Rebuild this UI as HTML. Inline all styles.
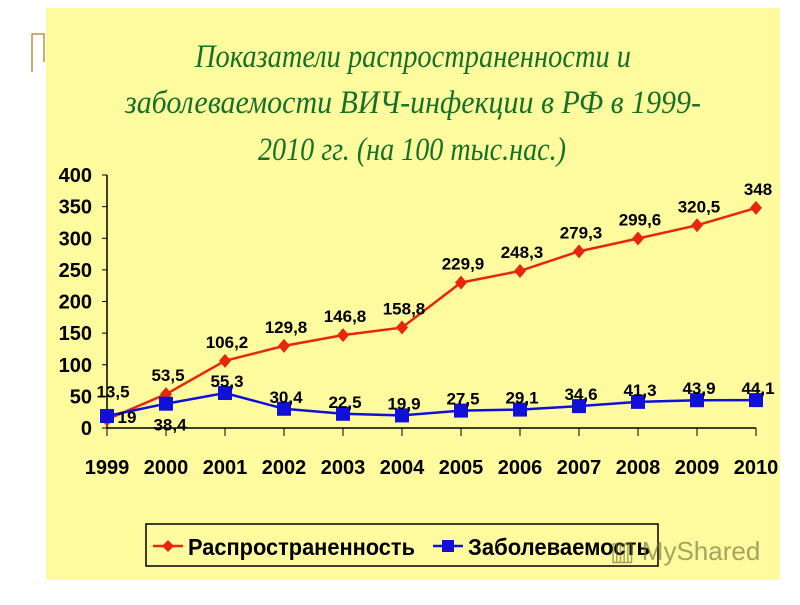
<!DOCTYPE html>
<html><head><meta charset="utf-8"><style>
body{margin:0;width:800px;height:600px;background:#fff;overflow:hidden;font-family:"Liberation Sans",sans-serif}
</style></head><body>
<svg width="800" height="600">
<rect x="46" y="8" width="734" height="572" fill="#fdfb9d"/>
<path d="M44 62 V34 H32 V72" fill="none" stroke="#b8963c" stroke-width="1.5"/>
<g font-family="'Liberation Serif',serif" font-style="italic" font-size="33" fill="#16702a">
<text x="195" y="67" textLength="436" lengthAdjust="spacingAndGlyphs">Показатели распространенности и</text>
<text x="125" y="113" textLength="576" lengthAdjust="spacingAndGlyphs">заболеваемости ВИЧ-инфекции в РФ в 1999-</text>
<text x="258" y="160" textLength="308" lengthAdjust="spacingAndGlyphs">2010 гг. (на 100 тыс.нас.)</text>
</g>
<g id="axes"></g>
<g id="marks"></g>
<g>
<rect x="146" y="524" width="512" height="42" fill="none" stroke="#000" stroke-width="1.5"/>
<line x1="153" y1="546" x2="183" y2="546" stroke="#e8260e" stroke-width="2.5"/>
<path d="M168 540 L174 546 L168 552 L162 546Z" fill="#e8260e"/>
<text x="188" y="555" font-size="23" font-weight="bold" textLength="227" lengthAdjust="spacingAndGlyphs">Распространенность</text>
<line x1="433" y1="546" x2="463" y2="546" stroke="#1010d8" stroke-width="2.5"/>
<rect x="442" y="540" width="12" height="12" fill="#1010d8"/>
<text x="468" y="555" font-size="23" font-weight="bold" textLength="182" lengthAdjust="spacingAndGlyphs">Заболеваемость</text>
</g>
<text x="610" y="560" font-size="26" fill="#6a6a3a" opacity="0.6">▥ MyShared</text>
</svg>
<script>
const years=["1999","2000","2001","2002","2003","2004","2005","2006","2007","2008","2009","2010"];
const prevalence=[13.5,53.5,106.2,129.8,146.8,158.8,229.9,248.3,279.3,299.6,320.5,348];
const incidence=[19,38.4,55.3,30.4,22.5,19.9,27.5,29.1,34.6,41.3,43.9,44.1];
const yTicks=[0,50,100,150,200,250,300,350,400];
const NS="http://www.w3.org/2000/svg";
const X=i=>107+i*59, Y=v=>428-v*0.6325;
function mk(t,a,p){const e=document.createElementNS(NS,t);for(const k in a)e.setAttribute(k,a[k]);document.getElementById(p).appendChild(e);return e;}
let e=mk('line',{x1:107,y1:Y(0),x2:X(11),y2:Y(0),stroke:'#000','stroke-width':1.5},'axes');


e=mk('line',{x1:107,y1:Y(400),x2:107,y2:Y(0),stroke:'#000','stroke-width':1.5},'axes');


yTicks.forEach(v=>{
 mk('line',{x1:102,y1:Y(v),x2:107,y2:Y(v),stroke:'#000'},'axes');
 e=mk('text',{x:92,y:Y(v)+7,'text-anchor':'end','font-size':20,'font-weight':'bold'},'axes');e.textContent=v;
 
 
});
years.forEach((y,i)=>{
 mk('line',{x1:X(i),y1:Y(0),x2:X(i),y2:Y(0)+8,stroke:'#000'},'axes');
 e=mk('text',{x:X(i),y:474,'text-anchor':'middle','font-size':20,'font-weight':'bold'},'axes');e.textContent=y;
 
 
});
function series(vals,col,name,marker,lab){
 e=mk('polyline',{points:vals.map((v,i)=>X(i)+','+Y(v)).join(' '),fill:'none',stroke:col,'stroke-width':2.5},'marks');
 
 
 vals.forEach((v,i)=>{
  const x=X(i),y=Y(v);
  if(marker==='d') e=mk('path',{d:`M${x} ${y-7}L${x+6} ${y}L${x} ${y+7}L${x-6} ${y}Z`,fill:col},'marks');
  else e=mk('rect',{x:x-7,y:y-7,width:14,height:14,fill:col},'marks');
  
  
  const o=lab(i);
  e=mk('text',{x:x+o[0],y:y+o[1],'text-anchor':'middle','font-size':17,'font-weight':'bold'},'marks');
  e.textContent=String(v).replace('.',',');
  
  
 });
}
series(prevalence,'#e8260e','prevalence','d',i=>i===0?[6,-22]:[2,-13]);
series(incidence,'#1010d8','incidence','s',i=>i===0?[20,7]:i===1?[4,27]:[2,-6]);
</script>
</body></html>
